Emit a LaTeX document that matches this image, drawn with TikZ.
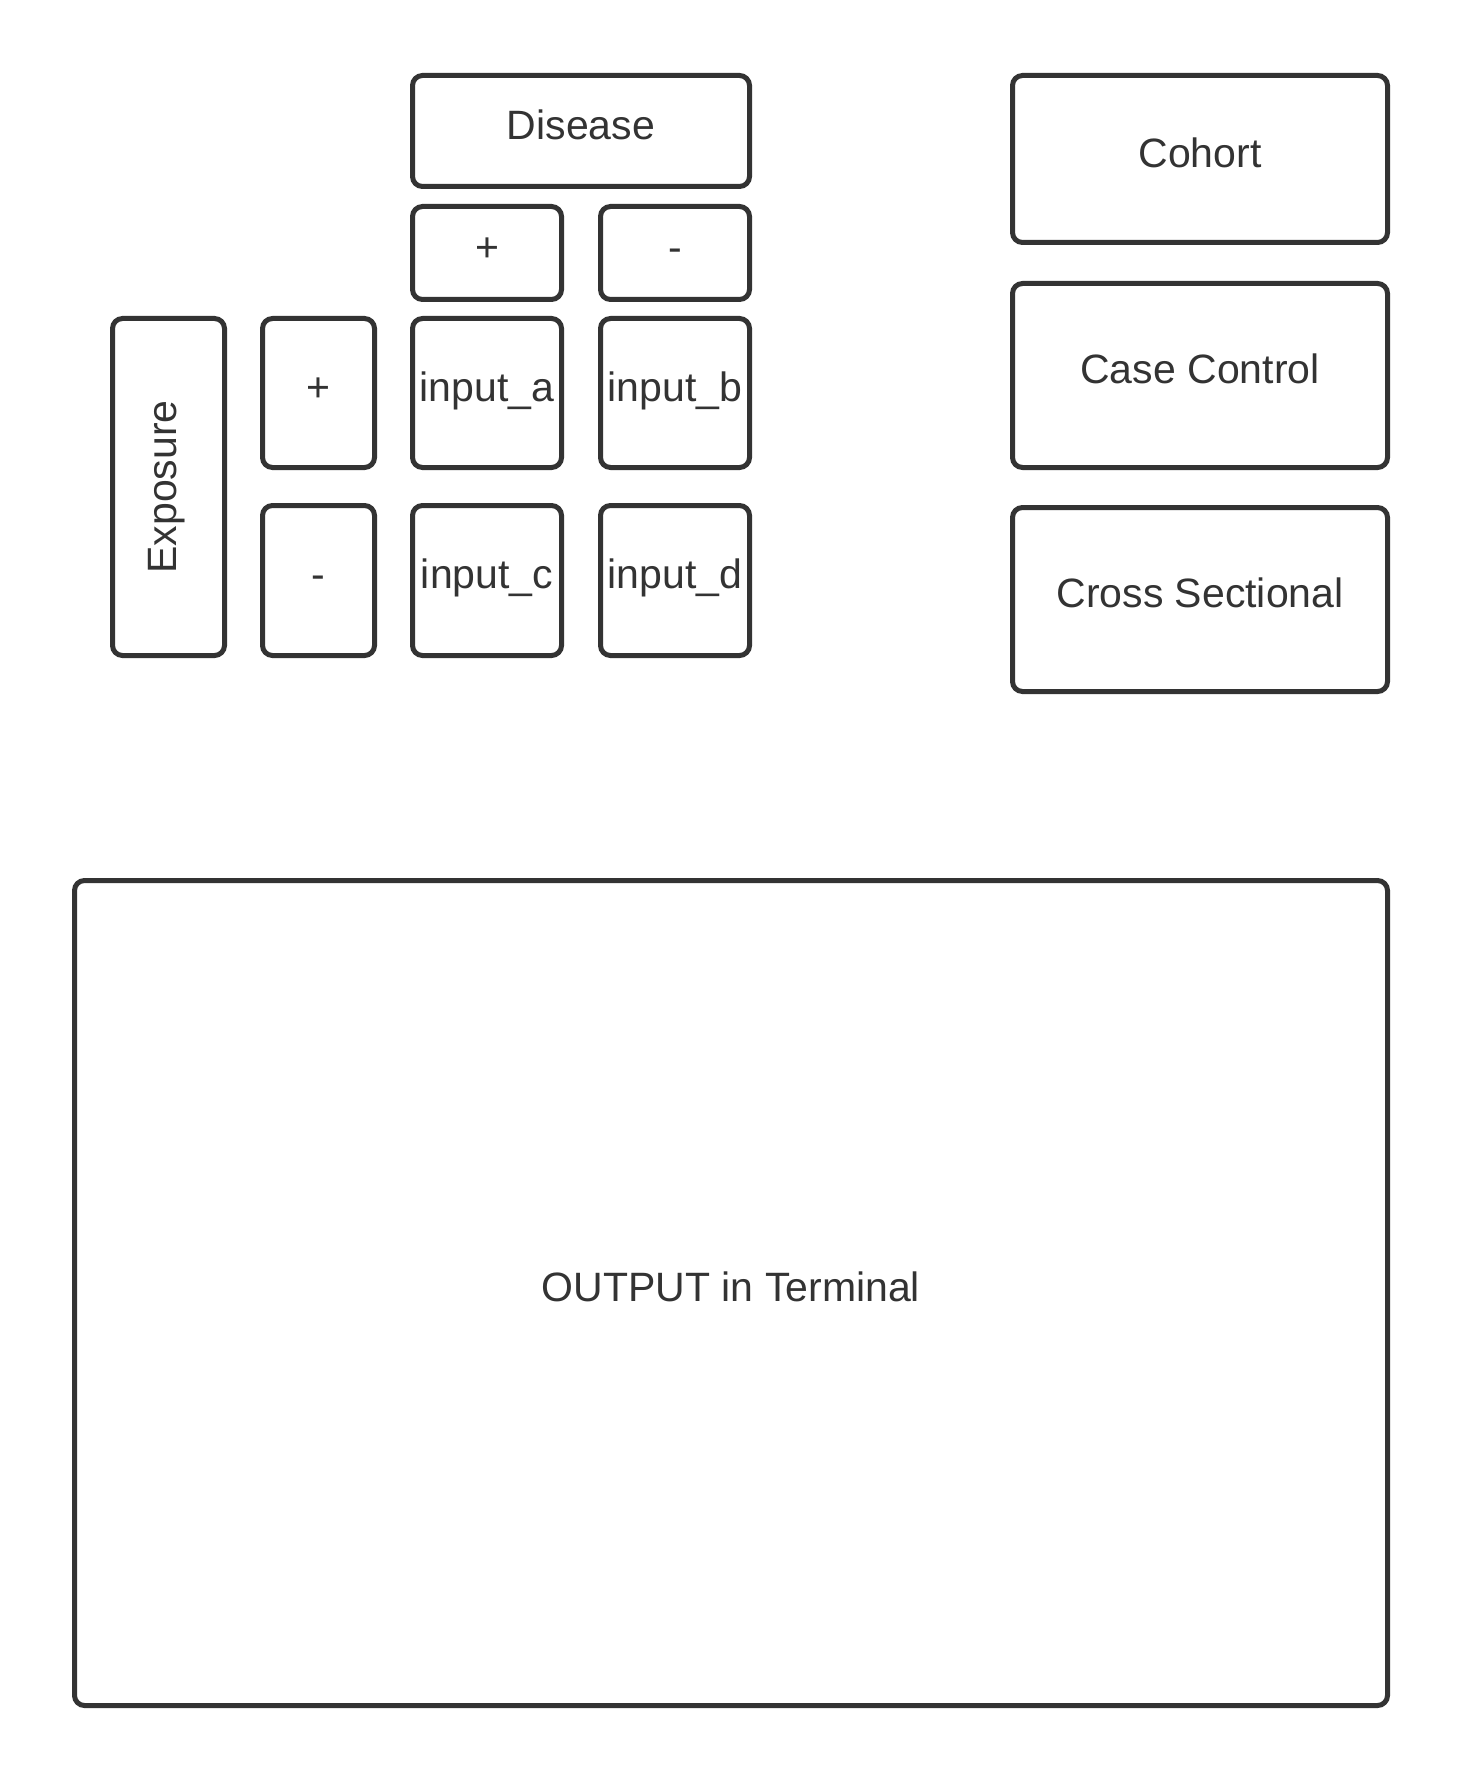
\documentclass[tikz,border=0pt]{standalone}
\usepackage{fontspec}
\setmainfont{Liberation Sans}
\usepackage{tikz}
\definecolor{darkgray}{HTML}{333333}

\begin{document}
\begin{tikzpicture}[x=0.5pt, y=-0.5pt,
  cell/.style = {draw=darkgray, text=darkgray, line width=2.5pt, rounded corners=5pt,
    inner sep=0pt, text height=0.92em, text depth=0.08em,
    font=\fontsize{20.5}{24}\selectfont},
  smallcell/.style = {cell, minimum width=74.5pt, minimum height=74.5pt},
  sidecell/.style = {cell, minimum width=187.5pt, minimum height=92pt}
]
\useasboundingbox (0,0) rectangle (1463,1781);

\node[cell, minimum width=168.5pt, minimum height=55.5pt] (disease) at (581,131) {Disease};
\node[smallcell, minimum height=46.5pt] (dplus) at (487,253) {+};
\node[smallcell, minimum height=46.5pt] (dminus) at (675,253) {-};

\node[cell, minimum width=168.5pt, minimum height=56pt, rotate=90] (exposure) at (168.5,487) {Exposure};
\node[smallcell, minimum width=56pt] (eplus) at (318.5,393) {+};
\node[smallcell, minimum width=56pt, minimum height=75pt] (eminus) at (318.5,580.5) {-};

\node[smallcell] (inputa) at (487,393) {input\_a};
\node[smallcell] (inputb) at (675,393) {input\_b};
\node[smallcell, minimum height=75pt] (inputc) at (487,580.5) {input\_c};
\node[smallcell, minimum height=75pt] (inputd) at (675,580.5) {input\_d};

\node[sidecell, minimum height=83.5pt] (cohort) at (1200,159) {Cohort};
\node[sidecell] (casecontrol) at (1200,375.5) {Case Control};
\node[sidecell] (crosssectional) at (1200,599.5) {Cross Sectional};

\node[cell, minimum width=656.5pt, minimum height=412.5pt] (output) at (731,1293) {OUTPUT in Terminal};
\end{tikzpicture}
\end{document}
